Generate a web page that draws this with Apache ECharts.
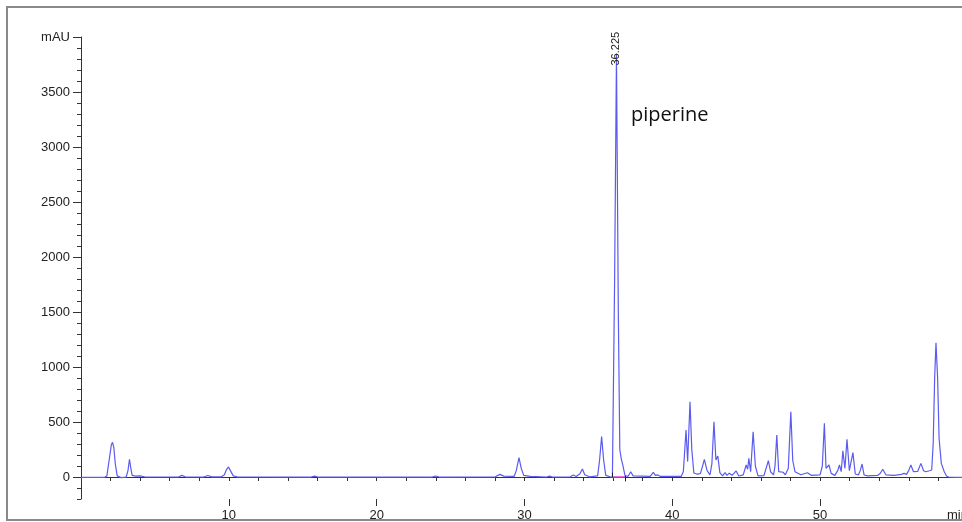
<!DOCTYPE html>
<html>
<head>
<meta charset="utf-8">
<script src="https://cdn.jsdelivr.net/npm/echarts@6/dist/echarts.min.js"></script>
<style>
  html, body { margin: 0; padding: 0; background: #fff; }
  #main { width: 962px; height: 522px; }
</style>
</head>
<body>
<div id="main"></div>
<script>
// retention time (min) and absorbance (mAU)
var times = [
  0, 1.6, 1.75, 1.9, 2.05, 2.13, 2.22, 2.32, 2.45, 2.7,
  3.05, 3.18, 3.28, 3.36, 3.46, 3.7, 3.98, 4.3, 5.5, 6.6,
  6.82, 7.05, 8.3, 8.58, 8.85, 9.5, 9.7, 9.85, 9.98, 10.1,
  10.3, 10.6, 15.5, 15.8, 16.1, 23.7, 24.0, 24.3, 28.0, 28.34,
  28.6, 29.3, 29.45, 29.63, 29.78, 29.95, 30.4, 31.5, 31.7, 31.9,
  33.1, 33.3, 33.5, 33.75, 33.92, 34.08, 34.4, 34.95, 35.08, 35.22,
  35.36, 35.5, 35.8, 35.95, 36.1, 36.225, 36.35, 36.45, 36.55, 36.65,
  36.8, 37.0, 37.19, 37.35, 38.5, 38.72, 38.85, 39.0, 39.2, 39.55,
  39.67, 39.85, 40.6, 40.75, 40.93, 41.04, 41.2, 41.32, 41.46, 41.65,
  41.9, 42.05, 42.17, 42.35, 42.55, 42.68, 42.82, 42.95, 43.08, 43.22,
  43.4, 43.57, 43.7, 43.85, 44.05, 44.32, 44.5, 44.8, 45.0, 45.1,
  45.18, 45.3, 45.47, 45.62, 45.8, 46.2, 46.5, 46.65, 46.85, 46.95,
  47.07, 47.2, 47.5, 47.65, 47.85, 48.02, 48.15, 48.3, 48.7, 49.14,
  49.4, 50.0, 50.15, 50.29, 50.4, 50.6, 50.75, 51.0, 51.2, 51.31,
  51.43, 51.54, 51.68, 51.82, 51.98, 52.1, 52.22, 52.38, 52.6, 52.72,
  52.84, 52.98, 53.2, 53.9, 54.05, 54.24, 54.45, 55.0, 55.5, 55.68,
  55.85, 56.0, 56.14, 56.32, 56.6, 56.82, 57.0, 57.15, 57.4, 57.55,
  57.65, 57.75, 57.84, 57.95, 58.05, 58.2, 58.4, 58.55, 58.7, 59.2,
  59.6
];
var mau = [
  -3, -3, 10, 150, 290, 315, 270, 120, 10, -5,
  -2, 60, 161, 90, 15, 8, 10, 2, 0, 0,
  15, 2, 0, 14, 1, 2, 20, 70, 91, 60,
  10, 0, -2, 8, -2, -2, 9, -2, 0, 24,
  8, 5, 60, 176, 80, 15, 5, 0, 8, 0,
  2, 18, 5, 30, 72, 20, 2, 10, 150, 367,
  150, 15, 2, 0, 1800, 3850, 1500, 250, 165, 110,
  15, 5, 48, 10, 5, 43, 15, 20, 5, 5,
  18, 5, 5, 50, 427, 140, 685, 250, 36, 27,
  30, 100, 160, 60, 18, 120, 503, 155, 191, 40,
  10, 40, 15, 35, 15, 55, 9, 20, 109, 70,
  170, 48, 412, 100, 10, 12, 148, 48, 20, 100,
  382, 48, 43, 20, 80, 594, 150, 48, 20, 39,
  15, 20, 100, 488, 79, 109, 33, 15, 60, 109,
  48, 239, 79, 343, 57, 60, 221, 27, 20, 60,
  118, 18, 10, 15, 30, 70, 20, 15, 24, 33,
  24, 60, 109, 48, 50, 124, 57, 48, 57, 64,
  300, 900, 1221, 900, 350, 124, 48, 9, 0, -3,
  -3
];
var yLabels = ["0", "500", "1000", "1500", "2000", "2500", "3000", "3500", "mAU"];
var xLabels = [10, 20, 30, 40, 50];
var peakTime = 36.225;
var peakHeight = 3850;
var peakName = "piperine";

var traceData = [];
for (var i = 0; i < times.length; i++) {
  traceData.push([times[i], mau[i]]);
}

var chart = echarts.init(document.getElementById("main"));
var axisFont = { fontFamily: "Liberation Sans", fontSize: 13, color: "#222" };
var dark = { color: "#333", width: 1 };

var option = {
  animation: false,
  backgroundColor: "#fff",
  grid: [
    { left: 81, right: 0, top: 37, bottom: 23, outerBoundsMode: "none" }, // plot area, -200 .. 4000
    { left: 81, right: 0, top: 37, bottom: 45, outerBoundsMode: "none" }  // same scale, 0 .. 4000 for labelled ticks
  ],
  xAxis: [
    {
      // minor ticks every 2 min
      type: "value", gridIndex: 0, min: 0, max: 59.6, interval: 2,
      axisLine: { show: true, lineStyle: dark },
      axisTick: { show: true, length: 4, lineStyle: dark },
      axisLabel: { show: false },
      splitLine: { show: false }
    },
    {
      // major ticks and labels every 10 min
      type: "value", gridIndex: 0, min: 0, max: 59.6, interval: 10, position: "bottom",
      axisLine: { show: false },
      axisTick: { show: true, length: 7, lineStyle: dark },
      axisLabel: Object.assign({
        margin: 10,
        showMinLabel: false,
        showMaxLabel: false,
        formatter: function (v) { return xLabels.indexOf(v) >= 0 ? String(v) : ""; }
      }, axisFont),
      splitLine: { show: false },
      name: "min",
      nameLocation: "end",
      nameGap: -15,
      nameTextStyle: Object.assign({ align: "left", verticalAlign: "top", padding: [10, 0, 0, 0] }, axisFont)
    },
    { type: "value", gridIndex: 1, min: 0, max: 59.6, show: false }
  ],
  yAxis: [
    {
      // minor ticks every 100 mAU, axis runs down to -200
      type: "value", gridIndex: 0, min: -200, max: 4000, interval: 100,
      axisLine: { show: true, lineStyle: dark },
      axisTick: { show: true, length: 4, lineStyle: dark },
      axisLabel: { show: false },
      splitLine: { show: false }
    },
    {
      type: "value", gridIndex: 1, min: 0, max: 4000, interval: 500,
      axisLine: { show: false },
      axisTick: { show: true, length: 8, lineStyle: dark },
      axisLabel: Object.assign({
        margin: 11,
        formatter: function (v) { return yLabels[v / 500]; }
      }, axisFont),
      splitLine: { show: false }
    }
  ],
  graphic: [
    {
      // frame of the exported report
      type: "rect",
      shape: { x: 7, y: 7, width: 1000, height: 513 },
      style: { fill: "none", stroke: "#8a8a8a", lineWidth: 2 },
      silent: true
    },
    {
      type: "text",
      left: 631,
      top: 105,
      style: { text: peakName, fontFamily: "Open Sans", fontSize: 20, fill: "#111" }
    }
  ],
  series: [
    {
      type: "line",
      xAxisIndex: 0,
      yAxisIndex: 0,
      data: traceData,
      showSymbol: false,
      symbol: "none",
      lineStyle: { color: "#5b5bf0", width: 1.2 },
      // retention time printed at the apex of the main peak
      markPoint: {
        silent: true,
        symbol: "circle",
        symbolSize: 0,
        data: [{ coord: [peakTime, peakHeight] }],
        label: {
          show: true,
          position: "inside",
          offset: [-12, -1],
          rotate: 90,
          align: "left",
          verticalAlign: "middle",
          formatter: String(peakTime),
          fontFamily: "Liberation Sans",
          fontSize: 11,
          color: "#222"
        }
      },
      // integration baseline under the main peak
      markLine: {
        silent: true,
        symbol: "none",
        label: { show: false },
        data: [
          [{ coord: [35.95, -2], lineStyle: { color: "#e040d0", width: 1.5, type: "solid" } }, { coord: [36.8, -2] }],
          [{ coord: [35.95, -2], lineStyle: { color: "#222", width: 1, type: "solid" } }, { coord: [35.95, 40] }],
          [{ coord: [36.8, -40], lineStyle: { color: "#222", width: 1, type: "solid" } }, { coord: [36.8, 10] }]
        ]
      }
    }
  ]
};
option && chart.setOption(option);
</script>
</body>
</html>
